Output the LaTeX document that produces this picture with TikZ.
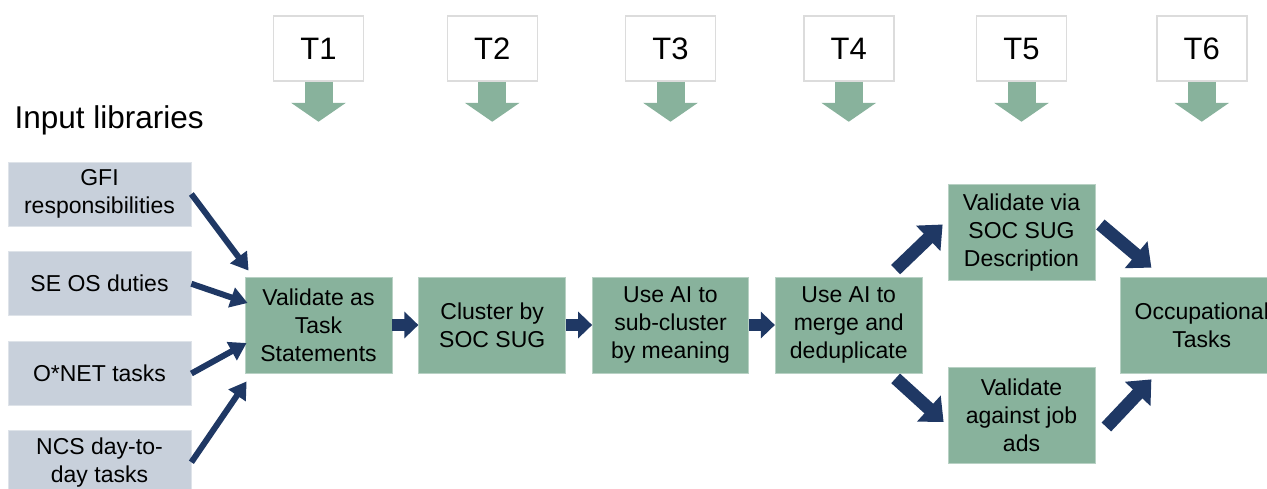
\documentclass[tikz,border=0pt]{standalone}
\usepackage{fontspec}
\setmainfont{Liberation Sans}
\usetikzlibrary{chains,positioning,arrows.meta}
\definecolor{taskgreen}{HTML}{88B29C}
\definecolor{libgray}{HTML}{C8D0DB}
\definecolor{navy}{HTML}{1F3864}
\definecolor{tgray}{HTML}{DCDCDC}
\tikzstyle{task}=[fill=taskgreen,draw=taskgreen!60!white,line width=0.75pt,minimum width=147pt,minimum height=96pt,inner sep=0pt,align=center,font=\fontsize{23}{28}\selectfont]
\tikzstyle{flow}=[task,on chain,join]
\tikzstyle{lib}=[fill=libgray,draw=libgray!60!white,line width=0.75pt,minimum width=183pt,minimum height=64pt,inner sep=0pt,align=center,font=\fontsize{23}{28}\selectfont]
\tikzstyle{tbox}=[draw=tgray,line width=1.5pt,fill=white,minimum width=90pt,minimum height=65pt,inner sep=0pt,font=\fontsize{31}{36}\selectfont]
\tikzstyle{down}=[draw=taskgreen,line width=28pt,-{Triangle[width=54pt,length=19pt]}]
\tikzstyle{joinarrow}=[draw=navy,line width=12pt,-{Triangle[width=26pt,length=14pt]}]
\tikzstyle{bigarrow}=[draw=navy,line width=13pt,-{Triangle[width=34pt,length=20pt]}]
\tikzstyle{inarrow}=[draw=navy,line width=6pt,-{Triangle[width=20pt,length=17pt]}]

\begin{document}
\begin{tikzpicture}[x=1pt,y=-1pt,start chain=going right,node distance=26pt,every join/.style={joinarrow}]
  \clip (0,0) rectangle (1267,488);
  \node[anchor=base west,font=\fontsize{31.5}{36}\selectfont] (inlib) at (11,128) {Input libraries};

  \node[flow] (val) at (318.5,325) {Validate as\\Task\\Statements};
  \node[flow] (clus) {Cluster by\\SOC SUG};
  \node[flow,minimum width=156pt] (sub) {Use AI to\\sub-cluster\\by meaning};
  \node[flow] (merge) {Use AI to\\merge and\\deduplicate};

  \node[task,right=25pt of merge,yshift=92.5pt] (via) {Validate via\\SOC SUG\\Description};
  \node[task,right=25pt of merge,yshift=-90pt] (against) {Validate\\against job\\ads};
  \node[task,minimum width=162pt,right=25pt of via,yshift=-92.5pt] (occ) {Occupational\\Tasks};

  \node[lib] (gfi) at (99.5,194) {GFI\\responsibilities};
  \node[lib,below=25pt of gfi] (seos) {SE OS duties};
  \node[lib,below=25pt of seos] (onet) {O*NET tasks};
  \node[lib,below=24pt of onet] (ncs) {NCS day-to-\\day tasks};

  \draw[inarrow] (gfi.east) -- ([shift={(4,-6)}]val.north west);
  \draw[inarrow] (seos.east) -- ([shift={(3,-22)}]val.west);
  \draw[inarrow] (onet.east) -- ([shift={(2,18)}]val.west);
  \draw[inarrow] (ncs.east) -- ([shift={(2,8)}]val.south west);

  \draw[bigarrow] ([shift={(-27,-7)}]merge.north east) -- ([shift={(-5,-8)}]via.west);
  \draw[bigarrow] ([shift={(-27,5)}]merge.south east) -- ([shift={(-4,7)}]against.west);
  \draw[bigarrow] ([shift={(5,-8)}]via.east) -- ([shift={(31,-9)}]occ.north west);
  \draw[bigarrow] ([shift={(11,12)}]against.east) -- ([shift={(31,6)}]occ.south west);

  \coordinate (top) at (0,48.5);
  \foreach \c [count=\i] in {val,clus,sub,merge,via,occ} {
    \node[tbox] (t\i) at (\c |- top) {T\i};
    \coordinate (t\i tip) at ([yshift=-40pt]t\i.south);
    \draw[down] (t\i) -- (t\i tip);
  }
\end{tikzpicture}
\end{document}
